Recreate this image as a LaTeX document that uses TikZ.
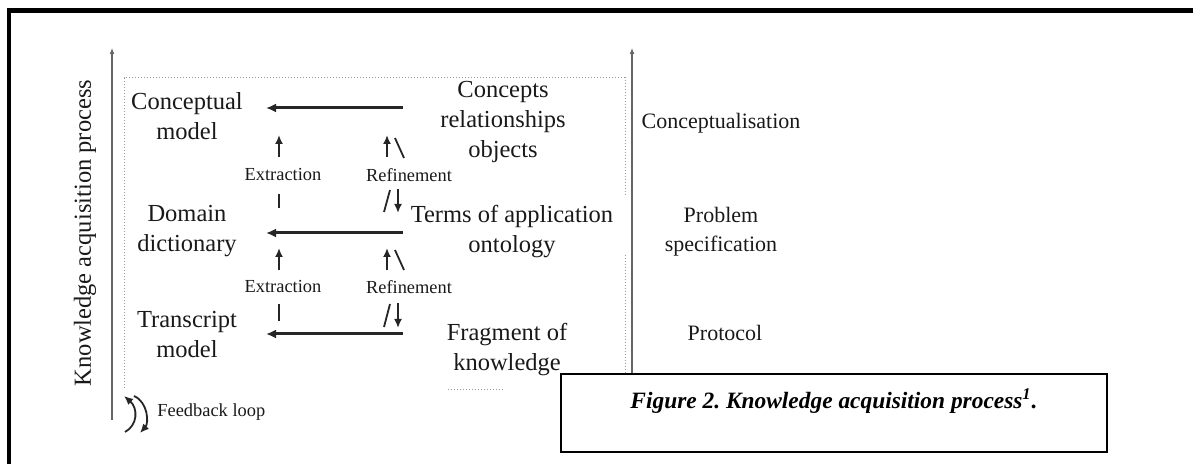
\documentclass[tikz,border=0pt]{standalone}
\usepackage{fontspec}
\setmainfont{Liberation Serif}
\usetikzlibrary{arrows.meta,positioning}

\begin{document}
\begin{tikzpicture}[x=0.5pt,y=-0.5pt,on grid,
   every node/.style={text=black!90,align=center,inner sep=0pt},
   stage/.style={font=\fontsize{12.25}{15}\selectfont},
   level/.style={font=\fontsize{11}{14.5}\selectfont},
   tag/.style={font=\fontsize{9.2}{11}\selectfont},
   flow/.style={line width=1.5pt,draw=black!85,-{Latex[length=5pt,width=4.5pt]}},
   tick/.style={line width=0.9pt,draw=black!85},
   nib/.style={tick,-{Latex[length=4.5pt,width=4pt]}},
   axis/.style={line width=0.7pt,draw=black!60,-{Latex[length=3pt,width=2.5pt]}},
   frame/.style={densely dotted,draw=black!40,line width=0.5pt}]
   \useasboundingbox (0,0) rectangle (1193,464);
   % outer frame
   \draw[line width=2.25pt] (9,464) -- (9,10.5) -- (1193,10.5);
   % axes
   \coordinate (lb) at (112,420);
   \coordinate (lt) at (112,48);
   \coordinate (rb) at (632,374);
   \coordinate (rt) at (632,48);
   \draw[axis] (lb) -- (lt);
   \draw[axis] (rb) -- (rt);
   \node[stage,rotate=90] (kap) at (85,233) {Knowledge acquisition process};
   % dotted box
   \draw[frame] (124,388) -- (124,78) -- (625,78) -- (625,195);
   \draw[frame] (625,255) -- (625,374);
   \draw[frame] (448,390) -- (503,390);
   % left column
   \node[stage] (cm) at (187,116) {Conceptual\\model};
   \node[stage] (dd) [below=57.5pt of cm] {Domain\\dictionary};
   \node[stage] (tm) [below=52pt of dd] {Transcript\\model};
   % right column
   \node[stage] (crel) at (503,122) {Concepts\\relationships\\objects};
   \node[stage] (tao) at (512,232) {Terms of application\\ontology};
   \node[stage] (fok) at (507,350) {Fragment of\\knowledge};
   % levels
   \node[level] (concl) at (721,123) {Conceptualisation};
   \node[level] (probs) at (721,231.5) {Problem\\specification};
   \node[level] (prot) at (725,333) {Protocol};
   % main arrows
   \coordinate (s1) at (403,108);
   \coordinate (e1) at (266,108);
   \coordinate (s2) at (403,233);
   \coordinate (e2) at (266,233);
   \coordinate (s3) at (403,334);
   \coordinate (e3) at (266,334);
   \draw[flow] (s1) -- (e1);
   \draw[flow] (s2) -- (e2);
   \draw[flow] (s3) -- (e3);
   % extraction / refinement
   \node[tag] (ext1) at (283,175) {Extraction};
   \node[tag] (ref1) at (409,175) {Refinement};
   \node[tag] (ext2) at (283,287) {Extraction};
   \node[tag] (ref2) at (409,287) {Refinement};
   \draw[nib] (ext1.center) ++(-4,-18) -- ++(0,-22);
   \draw[tick] (ext1.center) ++(-4,19) -- ++(0,14);
   \draw[nib] (ref1.center) ++(-22,-18) -- ++(0,-22);
   \draw[tick] (ref1.center) ++(-14,-37) -- ++(9,20);
   \draw[tick] (ref1.center) ++(-25,37) -- ++(6,-22);
   \draw[nib] (ref1.center) ++(-11,14) -- ++(0,24);
   \draw[nib] (ext2.center) ++(-4,-17) -- ++(0,-22);
   \draw[tick] (ext2.center) ++(-4,17) -- ++(0,17);
   \draw[nib] (ref2.center) ++(-22,-17) -- ++(0,-22);
   \draw[tick] (ref2.center) ++(-14,-37) -- ++(9,20);
   \draw[tick] (ref2.center) ++(-25,40) -- ++(6,-23);
   \draw[nib] (ref2.center) ++(-11,16) -- ++(0,25);
   % feedback loop
   \node[tag,anchor=west] (fb) at (157,412) {Feedback loop};
   \draw[nib] (fb.west) ++(-32,20) .. controls +(13,-7) and +(14,12) .. ++(-1,-36);
   \draw[nib] (fb.west) ++(-23,-16) .. controls +(14,6) and +(9,-10) .. ++(6,37);
   % caption
   \draw[line width=1.1pt,fill=white] (561,374) rectangle (1107,452);
   \node[text=black,font=\fontsize{11.7}{14}\selectfont\bfseries\itshape] (cap) at (834,401)
      {Figure 2.\ Knowledge acquisition process\textsuperscript{1}.};
\end{tikzpicture}
\end{document}
